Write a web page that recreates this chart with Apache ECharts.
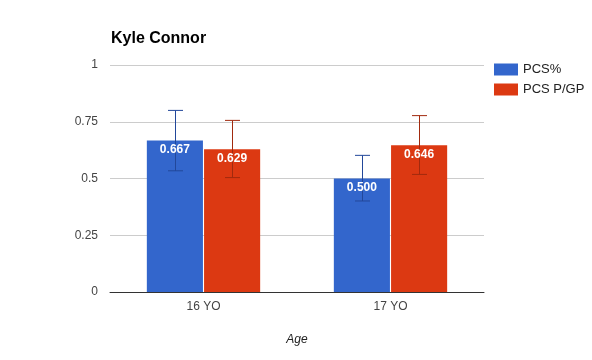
<!DOCTYPE html>
<html>
<head>
<meta charset="utf-8">
<script src="https://cdn.jsdelivr.net/npm/echarts@6/dist/echarts.min.js"></script>
<style>html,body{margin:0;padding:0;background:#fff}#c{width:592px;height:360px}</style>
</head>
<body>
<div id="c"></div>
<script>
const categories = ['16 YO', '17 YO'];
const seriesNames = ['PCS%', 'PCS P/GP'];
const pcsPct = [0.667, 0.500];
const pcsPctLow = [0.534, 0.401];
const pcsPctHigh = [0.800, 0.602];
const pcsPgp = [0.629, 0.646];
const pcsPgpLow = [0.504, 0.518];
const pcsPgpHigh = [0.756, 0.777];
const yTicks = [0, 0.25, 0.5, 0.75, 1];

const colors = ['#3366cc', '#dc3912'];
const errColors = ['#22479a', '#a12a0e'];
const BAR_FRAC = 0.3, GAP_FRAC = 0.02;
const FONT = 'Liberation Sans, Arial, sans-serif';

function barOffset(api, idx) {
  const band = api.size([1, 0])[0];
  const barW = band * BAR_FRAC;
  return (idx === 0 ? -1 : 1) * (barW + barW * GAP_FRAC) / 2;
}

function errSeries(idx, low, high) {
  return {
    type: 'custom',
    name: seriesNames[idx],
    z: 3,
    silent: true,
    data: categories.map((c, i) => [i, low[i], high[i]]),
    encode: { x: 0, y: [1, 2] },
    renderItem: function (params, api) {
      const off = barOffset(api, idx);
      const lo = api.coord([api.value(0), api.value(1)]);
      const hi = api.coord([api.value(0), api.value(2)]);
      const x = Math.round(lo[0] + off) + 0.5;
      const cap = 7.5;
      const st = { stroke: errColors[idx], lineWidth: 1 };
      return {
        type: 'group',
        children: [
          { type: 'line', shape: { x1: x, y1: hi[1], x2: x, y2: lo[1] }, style: st },
          { type: 'line', shape: { x1: x - cap, y1: hi[1], x2: x + cap, y2: hi[1] }, style: st },
          { type: 'line', shape: { x1: x - cap, y1: lo[1], x2: x + cap, y2: lo[1] }, style: st }
        ]
      };
    }
  };
}

function labelSeries(idx, values) {
  return {
    type: 'custom',
    name: seriesNames[idx],
    z: 4,
    silent: true,
    data: categories.map((c, i) => [i, values[i]]),
    encode: { x: 0, y: 1 },
    renderItem: function (params, api) {
      const off = barOffset(api, idx);
      const p = api.coord([api.value(0), api.value(1)]);
      return {
        type: 'text',
        style: {
          x: p[0] + off, y: p[1] + 3,
          text: api.value(1).toFixed(3),
          fill: '#fff', font: 'bold 12px ' + FONT,
          align: 'center', verticalAlign: 'top'
        }
      };
    }
  };
}

const chart = echarts.init(document.getElementById('c'));
chart.setOption({
  animation: false,
  textStyle: { fontFamily: FONT },
  title: {
    text: 'Kyle Connor', left: 111, top: 31, padding: 0,
    textStyle: { fontSize: 16, fontWeight: 'bold', color: '#000', fontFamily: FONT }
  },
  legend: {
    orient: 'vertical', left: 494, top: 63, padding: 0,
    itemWidth: 24, itemHeight: 12, itemGap: 7, icon: 'rect',
    data: seriesNames,
    textStyle: { fontSize: 13, color: '#222' }
  },
  grid: { left: 110, right: 108, top: 65, bottom: 68 },
  xAxis: {
    type: 'category', data: categories,
    name: 'Age', nameLocation: 'middle', nameGap: 42,
    nameTextStyle: { fontStyle: 'italic', fontSize: 12, color: '#222' },
    axisLine: { lineStyle: { color: '#333' } },
    axisTick: { show: false },
    axisLabel: { fontSize: 12, color: '#444', margin: 9 }
  },
  yAxis: {
    type: 'value', min: 0, max: 1, interval: 0.25,
    axisLine: { show: false }, axisTick: { show: false },
    axisLabel: { fontSize: 12, color: '#444', margin: 12, formatter: v => String(yTicks.find(t => Math.abs(t - v) < 1e-9) ?? v) },
    splitLine: { lineStyle: { color: '#ccc' } }
  },
  series: [
    { type: 'bar', name: seriesNames[0], data: pcsPct, barWidth: '30%', barGap: '2%', itemStyle: { color: colors[0] } },
    { type: 'bar', name: seriesNames[1], data: pcsPgp, barWidth: '30%', barGap: '2%', itemStyle: { color: colors[1] } },
    errSeries(0, pcsPctLow, pcsPctHigh),
    errSeries(1, pcsPgpLow, pcsPgpHigh),
    labelSeries(0, pcsPct),
    labelSeries(1, pcsPgp)
  ]
});
</script>
</body>
</html>
